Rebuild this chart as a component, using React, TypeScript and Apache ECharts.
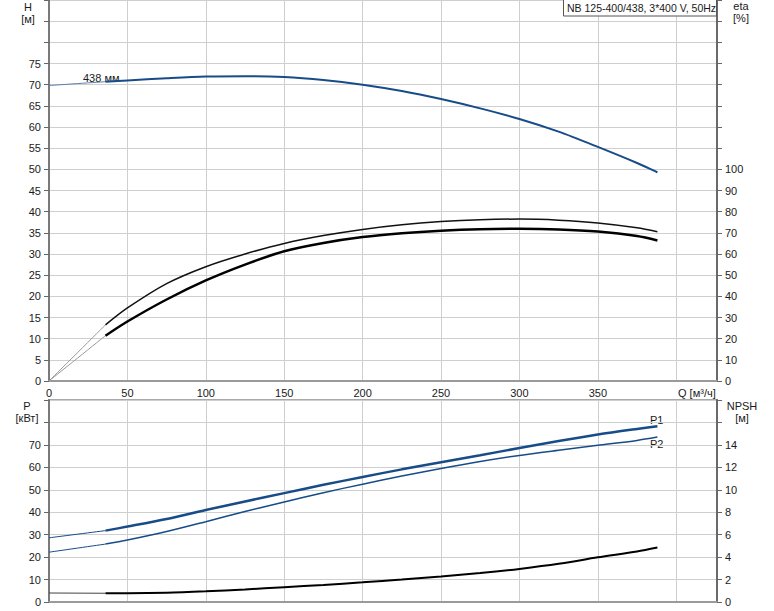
import React, { useEffect, useRef } from "react";
import * as echarts from "echarts";

const title = "NB 125-400/438, 3*400 V, 50Hz";
const curveName = "438 мм";

// flow values (m3/h)
const qStart = [0, 36];
const qMain = [36, 50, 75, 100, 125, 150, 175, 200, 225, 250, 275, 300, 325, 350, 375, 388];

// head H [m]
const hStart = [69.8, 70.7];
const hMain = [70.7, 71.0, 71.5, 71.9, 72.0, 71.8, 71.1, 70.0, 68.5, 66.6, 64.4, 61.9, 58.9, 55.3, 51.5, 49.3];

// efficiency eta [%] (upper curve, lower curve)
const etaAStart = [0, 26.5];
const etaAMain = [26.5, 34.5, 46, 54, 60, 65, 68.7, 71.6, 73.8, 75.3, 76.2, 76.5, 76.0, 74.7, 72.4, 70.5];
const etaBStart = [0, 21.4];
const etaBMain = [21.4, 28.1, 38.5, 47.5, 55, 61.3, 65.2, 68, 69.8, 71, 71.7, 71.9, 71.6, 70.6, 68.5, 66.4];

// power P [kW]
const p1Start = [28.6, 31.8];
const p1Main = [31.8, 33.6, 37.0, 41.0, 44.8, 48.5, 52.2, 55.7, 59.1, 62.3, 65.4, 68.6, 71.7, 74.6, 77.1, 78.3];
const p2Start = [22.2, 25.8];
const p2Main = [25.8, 27.6, 31.4, 35.8, 40.3, 44.6, 48.7, 52.5, 56.1, 59.5, 62.6, 65.3, 67.6, 69.8, 72.0, 73.5];

// NPSH [m]
const npshStart = [0.8, 0.78];
const npshMain = [0.78, 0.78, 0.82, 0.95, 1.12, 1.32, 1.52, 1.75, 2.0, 2.27, 2.58, 2.95, 3.4, 3.98, 4.5, 4.85];

const FONT = "'Liberation Sans', Arial, sans-serif";
const TXT = "#1a1a1a";
const BLUE = "#174c88";

const zip = (xs: number[], ys: number[]) => xs.map((x, i) => [x, ys[i]]);

export default function App() {
  const ref = useRef<HTMLDivElement>(null);
  useEffect(() => {
    if (!ref.current) return;
    const chart = echarts.init(ref.current, null, { renderer: "svg" });
    const splitLine = { show: true, lineStyle: { color: "#cfcfcf", width: 1 } };
    const xBase = {
      type: "value",
      min: 0,
      max: 426,
      interval: 50,
      axisTick: { show: false },
      splitLine,
      axisLine: { show: true, lineStyle: { color: "#9a9a9a", width: 2 } },
    };
    const yLabel = (limit: number) => ({
      fontSize: 11,
      fontFamily: FONT,
      color: TXT,
      margin: 8,
      formatter: (v: number) => (v <= limit ? String(v) : ""),
    });
    const yTick = { show: true, length: 5, inside: false, lineStyle: { color: "#666" } };
    const line = (name: string, x: number, y: number, q: number[], v: number[], color: string, width: number) => ({
      name,
      type: "line",
      xAxisIndex: x,
      yAxisIndex: y,
      data: zip(q, v),
      smooth: 0.3,
      symbol: "none",
      lineStyle: { color, width },
      silent: true,
    });
    const option: any = {
      animation: false,
      backgroundColor: "#ffffff",
      textStyle: { fontFamily: FONT },
      grid: [
        { left: 49, right: 57, top: 0, height: 381 },
        { left: 49, right: 57, top: 400, height: 202, show: true, borderColor: "#a8a8a8", borderWidth: 2 },
      ],
      xAxis: [
        {
          ...xBase,
          gridIndex: 0,
          axisLabel: {
            fontSize: 11,
            fontFamily: FONT,
            color: TXT,
            margin: 6,
            showMaxLabel: false,
            formatter: (v: number) => (v < 400 ? String(v) : ""),
          },
        },
        { ...xBase, gridIndex: 1, axisLabel: { show: false } },
      ],
      yAxis: [
        {
          type: "value", gridIndex: 0, min: 0, max: 90, interval: 5, position: "left",
          axisLine: { show: true, lineStyle: { color: "#7a7a7a", width: 2 } },
          axisTick: yTick, axisLabel: yLabel(75), splitLine,
        },
        {
          type: "value", gridIndex: 0, min: 0, max: 180, interval: 10, position: "right",
          axisLine: { show: true, lineStyle: { color: "#6a6a6a", width: 2 } },
          axisTick: yTick, axisLabel: yLabel(100), splitLine: { show: false },
        },
        {
          type: "value", gridIndex: 1, min: 0, max: 90, interval: 10, position: "left",
          axisLine: { show: true, lineStyle: { color: "#7a7a7a", width: 2 } },
          axisTick: yTick, axisLabel: yLabel(70), splitLine,
        },
        {
          type: "value", gridIndex: 1, min: 0, max: 18, interval: 2, position: "right",
          axisLine: { show: true, lineStyle: { color: "#6a6a6a", width: 2 } },
          axisTick: yTick, axisLabel: yLabel(14), splitLine: { show: false },
        },
      ],
      series: [
        line("H0", 0, 0, qStart, hStart, "#5f7fa8", 1),
        line("H", 0, 0, qMain, hMain, BLUE, 2),
        line("etaA0", 0, 1, qStart, etaAStart, "#9a9a9a", 1),
        line("etaA", 0, 1, qMain, etaAMain, "#111", 1.5),
        line("etaB0", 0, 1, qStart, etaBStart, "#9a9a9a", 1),
        line("etaB", 0, 1, qMain, etaBMain, "#000", 2.5),
        line("P10", 1, 2, qStart, p1Start, BLUE, 1),
        line("P1", 1, 2, qMain, p1Main, BLUE, 2.5),
        line("P20", 1, 2, qStart, p2Start, BLUE, 1),
        line("P2", 1, 2, qMain, p2Main, BLUE, 1.5),
        line("NPSH0", 1, 3, qStart, npshStart, "#444", 1.2),
        line("NPSH", 1, 3, qMain, npshMain, "#000", 2),
      ],
      graphic: [
        { type: "rect", shape: { x: 563.5, y: -1, width: 153, height: 17 }, style: { fill: "#fff", stroke: "#555", lineWidth: 1 }, z: 100 },
        { type: "text", x: 567, y: 2.5, style: { text: title, fontSize: 10.5, fontFamily: FONT, fill: TXT }, z: 101 },
        { type: "text", x: 28, y: 1, style: { text: "H", fontSize: 11, fontFamily: FONT, fill: TXT, align: "center" } },
        { type: "text", x: 28, y: 13, style: { text: "[м]", fontSize: 11, fontFamily: FONT, fill: TXT, align: "center" } },
        { type: "text", x: 741, y: 0, style: { text: "eta", fontSize: 11, fontFamily: FONT, fill: TXT, align: "center" } },
        { type: "text", x: 741, y: 12, style: { text: "[%]", fontSize: 11, fontFamily: FONT, fill: TXT, align: "center" } },
        { type: "text", x: 27, y: 400, style: { text: "P", fontSize: 11, fontFamily: FONT, fill: TXT, align: "center" } },
        { type: "text", x: 27, y: 412, style: { text: "[кВт]", fontSize: 11, fontFamily: FONT, fill: TXT, align: "center" } },
        { type: "text", x: 742, y: 400, style: { text: "NPSH", fontSize: 11, fontFamily: FONT, fill: TXT, align: "center" } },
        { type: "text", x: 742, y: 412, style: { text: "[м]", fontSize: 11, fontFamily: FONT, fill: TXT, align: "center" } },
        { type: "text", x: 678, y: 387, style: { text: "Q [м³/ч]", fontSize: 11, fontFamily: FONT, fill: TXT } },
        { type: "text", x: 83, y: 72, style: { text: curveName, fontSize: 11, fontFamily: FONT, fill: TXT } },
        { type: "text", x: 650, y: 414, style: { text: "P1", fontSize: 11, fontFamily: FONT, fill: TXT } },
        { type: "text", x: 650, y: 438, style: { text: "P2", fontSize: 11, fontFamily: FONT, fill: TXT } },
      ],
    };
    chart.setOption(option);
    return () => chart.dispose();
  }, []);
  return (
    <div
      ref={ref}
      style={{ position: "fixed", left: 0, top: 0, width: 774, height: 611, background: "#fff" }}
    />
  );
}
